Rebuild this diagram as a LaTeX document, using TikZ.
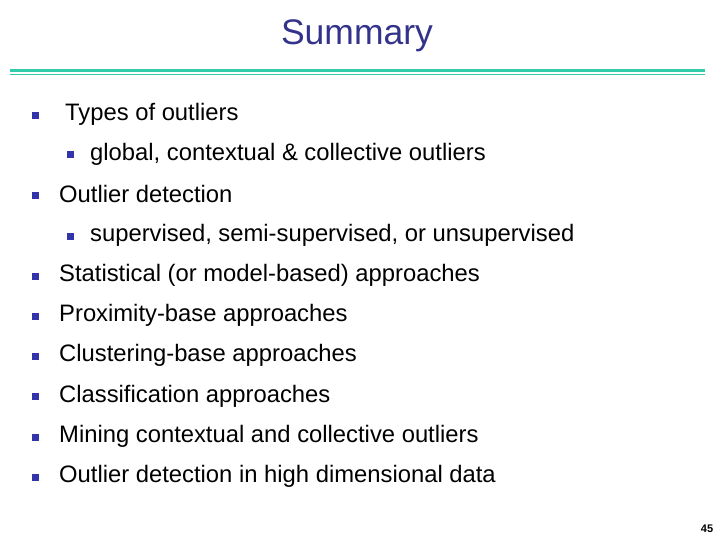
\documentclass[tikz,border=0pt]{standalone}
\usepackage{fontspec}
\setmainfont{Liberation Sans}
\usetikzlibrary{positioning}
\definecolor{navy}{RGB}{51,51,140}
\definecolor{teal}{RGB}{51,204,170}
\definecolor{bulblue}{RGB}{51,51,170}
\begin{document}
\begin{tikzpicture}[x=1pt,y=-1pt]
	\tikzstyle{bul}=[rectangle, fill=bulblue, minimum size=7pt, inner sep=0pt]
	\tikzstyle{item}=[anchor=west, inner sep=0pt, font=\fontsize{23.8}{26}\selectfont]
	\tikzstyle{rule}=[teal, line width=3pt]

	\useasboundingbox (0,0) rectangle (720,540);
	\node[font=\fontsize{35.5}{38}\selectfont, text=navy] (title) at (357,36) {Summary};
	\draw[rule] (10,71) -- (705,71);
	\draw[teal, line width=1pt] (10,75) -- (705,75);

	\node[bul] (b1) at (35,116) {};
	\node[item] (t1) at (65,114) {Types of outliers};
	\node[bul] (s1) at (70,155) {};
	\node[item] (u1) at (90,154) {global, contextual \& collective outliers};
	\node[bul] (b2) at (35,196) {};
	\node[item] (t2) at (59,194) {Outlier detection};
	\node[bul] (s2) at (70,236) {};
	\node[item] (u2) at (90,235) {supervised, semi-supervised, or unsupervised};

	\foreach \txt [count=\i] in {Statistical (or model-based) approaches,
		Proximity-base approaches, Clustering-base approaches,
		Classification approaches, Mining contextual and collective outliers,
		Outlier detection in high dimensional data}{
		\node[bul] (m\i) at (35,{276+40.3*(\i-1)}) {};
		\node[item] (mt\i) at (59,{275+40.3*(\i-1)}) {\txt};
	}

	\node[font=\bfseries\fontsize{11}{12}\selectfont] (page) at (707,529) {45};
\end{tikzpicture}
\end{document}
